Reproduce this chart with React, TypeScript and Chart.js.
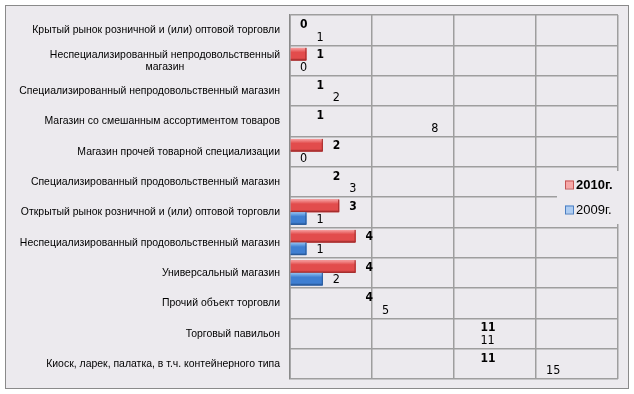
import React, { useEffect, useRef } from "react";
import { Chart, registerables } from "chart.js";

Chart.register(...registerables);

// ---- data ----
const categories: (string | string[])[] = [
  "Крытый рынок розничной и (или) оптовой торговли",
  ["Неспециализированный непродовольственный", "магазин"],
  "Специализированный непродовольственный магазин",
  "Магазин со смешанным ассортиментом товаров",
  "Магазин прочей товарной специализации",
  "Специализированный продовольственный магазин",
  "Открытый рынок розничной и (или) оптовой торговли",
  "Неспециализированный продовольственный магазин",
  "Универсальный магазин",
  "Прочий объект торговли",
  "Торговый павильон",
  "Киоск, ларек, палатка, в т.ч. контейнерного типа",
];
const seriesNames = ["2010г.", "2009г."];
const values2010 = [0, 1, 1, 1, 2, 2, 3, 4, 4, 4, 11, 11];
const values2009 = [1, 0, 2, 8, 0, 3, 1, 1, 2, 5, 11, 15];
// in the reference only some bars are actually rendered
const drawn2010 = [false, true, false, false, true, false, true, true, true, false, false, false];
const drawn2009 = [false, false, false, false, false, false, true, true, true, false, false, false];
const xMin = 0;
const xMax = 20;
const xStep = 5;

const BG = "#ECEAEE";
const GRID = "#9e9e9e";

const palettes = [
  { light: "#F7A0A0", main: "#E24C4C", dark: "#A32C2C", legendFill: "#F6A8A8", legendStroke: "#C45454" },
  { light: "#93C3F2", main: "#3F7FD2", dark: "#2A5A9A", legendFill: "#AECDF2", legendStroke: "#4B7FC2" },
];
const drawnFlags = [drawn2010, drawn2009];

const framePlugin = {
  id: "frame",
  beforeDraw(chart: any) {
    const ctx = chart.ctx;
    ctx.save();
    ctx.fillStyle = "#ffffff";
    ctx.fillRect(0, 0, chart.width, chart.height);
    ctx.fillStyle = BG;
    ctx.fillRect(5, 5, 623, 383);
    ctx.strokeStyle = "#8a8a8a";
    ctx.lineWidth = 1;
    ctx.strokeRect(5.5, 5.5, 623, 383);
    ctx.restore();
  },
};

const overlayPlugin = {
  id: "overlay",
  afterDatasetsDraw(chart: any) {
    const ctx = chart.ctx;
    // shaded bars
    chart.data.datasets.forEach((ds: any, di: number) => {
      const meta = chart.getDatasetMeta(di);
      const pal = palettes[di];
      meta.data.forEach((el: any, i: number) => {
        if (!drawnFlags[di][i]) return;
        const { x, y, base, height } = el.getProps(["x", "y", "base", "height"], true);
        const left = Math.min(base, x);
        const w = Math.abs(x - base);
        if (w <= 0) return;
        const top = y - height / 2;
        const g = ctx.createLinearGradient(0, top, 0, top + height);
        g.addColorStop(0, pal.light);
        g.addColorStop(0.35, pal.main);
        g.addColorStop(0.8, pal.main);
        g.addColorStop(1, pal.dark);
        ctx.save();
        ctx.fillStyle = g;
        ctx.fillRect(left, top, w, height);
        ctx.strokeStyle = pal.dark;
        ctx.lineWidth = 1;
        ctx.beginPath();
        ctx.moveTo(left + w - 0.5, top);
        ctx.lineTo(left + w - 0.5, top + height - 0.5);
        ctx.lineTo(left, top + height - 0.5);
        ctx.stroke();
        ctx.restore();
      });
    });
    // value labels
    chart.data.datasets.forEach((ds: any, di: number) => {
      const meta = chart.getDatasetMeta(di);
      ctx.save();
      ctx.fillStyle = "#000";
      ctx.textAlign = "left";
      ctx.textBaseline = "middle";
      ctx.font = di === 0 ? "bold 12px 'DejaVu Sans Condensed'" : "12.5px 'DejaVu Sans Condensed'";
      meta.data.forEach((el: any, i: number) => {
        const { x, y } = el.getProps(["x", "y"], true);
        ctx.fillText(String(ds.data[i]), x + 10, y + 1);
      });
      ctx.restore();
    });
    // category labels
    const yScale = chart.scales.y;
    ctx.save();
    ctx.fillStyle = "#000";
    ctx.font = "11px 'Liberation Sans'";
    ctx.textBaseline = "middle";
    ctx.textAlign = "center";
    const right = chart.chartArea.left - 10;
    const sx = 0.95;
    categories.forEach((lab, i) => {
      const y = yScale.getPixelForTick(i);
      const lines = Array.isArray(lab) ? lab : [lab];
      const widths = lines.map((l) => ctx.measureText(l).width * sx);
      const maxW = Math.max(...widths);
      const cx = right - maxW / 2;
      const lh = 12;
      lines.forEach((l, k) => {
        const ly = y + (k - (lines.length - 1) / 2) * lh;
        ctx.save();
        ctx.translate(cx, ly);
        ctx.scale(sx, 1);
        ctx.fillText(l, 0, 0);
        ctx.restore();
      });
    });
    ctx.restore();
  },
  afterDraw(chart: any) {
    const ctx = chart.ctx;
    ctx.save();
    ctx.fillStyle = BG;
    ctx.fillRect(557, 171, 70, 53);
    const ys = [185, 210];
    seriesNames.forEach((name, i) => {
      const pal = palettes[i];
      ctx.fillStyle = pal.legendFill;
      ctx.fillRect(565, ys[i] - 4.5, 8, 8);
      ctx.strokeStyle = pal.legendStroke;
      ctx.lineWidth = 1;
      ctx.strokeRect(565.5, ys[i] - 4, 8, 8);
      ctx.fillStyle = "#000";
      ctx.textBaseline = "middle";
      ctx.textAlign = "left";
      ctx.font = (i === 0 ? "bold " : "") + "13px 'Liberation Sans'";
      ctx.fillText(name, 576, ys[i]);
    });
    ctx.restore();
  },
};

export default function App() {
  const ref = useRef<HTMLCanvasElement | null>(null);
  useEffect(() => {
    if (!ref.current) return;
    const chart = new Chart(ref.current, {
      type: "bar",
      data: {
        labels: categories as any,
        datasets: [
          {
            label: seriesNames[0],
            data: values2010,
            backgroundColor: drawn2010.map((d) => (d ? palettes[0].main : "rgba(0,0,0,0)")),
            borderWidth: 0,
            barPercentage: 1,
            categoryPercentage: 0.83,
          },
          {
            label: seriesNames[1],
            data: values2009,
            backgroundColor: drawn2009.map((d) => (d ? palettes[1].main : "rgba(0,0,0,0)")),
            borderWidth: 0,
            barPercentage: 1,
            categoryPercentage: 0.83,
          },
        ],
      },
      options: {
        indexAxis: "y",
        responsive: false,
        animation: false,
        layout: { padding: { left: 0, top: 15, right: 16, bottom: 15 } },
        plugins: { legend: { display: false }, tooltip: { enabled: false } },
        scales: {
          x: {
            min: xMin,
            max: xMax,
            ticks: { display: false, stepSize: xStep },
            grid: { color: GRID, lineWidth: 1.5, drawTicks: false },
            border: { display: false },
            afterFit: (s: any) => {
              s.height = 0;
            },
          },
          y: {
            ticks: { display: false },
            grid: { offset: true, color: GRID, lineWidth: 1.5, drawTicks: false },
            border: { color: "#8a8a8a", width: 1.5 },
            afterFit: (s: any) => {
              s.width = 290;
            },
          },
        },
      },
      plugins: [framePlugin, overlayPlugin],
    });
    return () => chart.destroy();
  }, []);
  return (
    <div style={{ position: "fixed", left: 0, top: 0, width: 634, height: 394 }}>
      <canvas ref={ref} width={634} height={394} style={{ display: "block" }} />
    </div>
  );
}
